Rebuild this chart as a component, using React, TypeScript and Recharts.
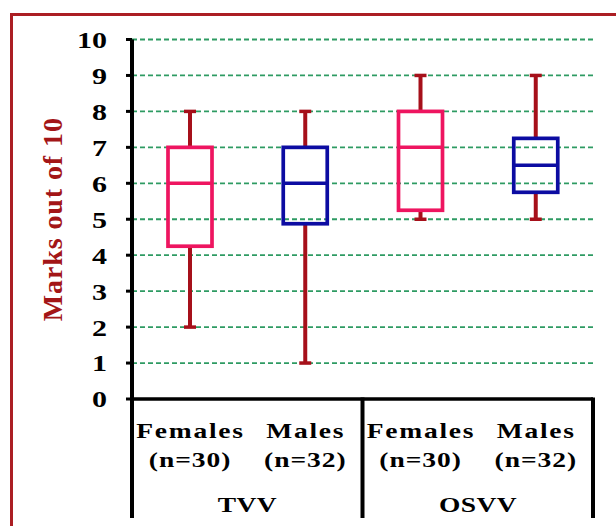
import React from 'react';
import { ComposedChart, Bar, XAxis, YAxis, CartesianGrid } from 'recharts';

// ---- data ----
const sexes = ['Females', 'Males', 'Females', 'Males'];
const counts = ['(n=30)', '(n=32)', '(n=30)', '(n=32)'];
const groups = ['TVV', 'OSVV'];
const mins = [2, 1, 5, 5];
const q1s = [4.25, 4.875, 5.25, 5.75];
const medians = [6, 6, 7, 6.5];
const q3s = [7, 7, 8, 7.25];
const maxs = [8, 8, 9, 9];
const yTicks = [0, 1, 2, 3, 4, 5, 6, 7, 8, 9, 10];
const yLabel = 'Marks out of 10';

// ---- styles ----
const SERIF = '"Liberation Serif", "Times New Roman", serif';
const BORDER = '#ab1e23';
const WHISKER = '#a6101a';
const BOX_COLORS: Record<string, string> = { Females: '#ee1560', Males: '#0c0ca2' };
const GRID = '#2e9b63';

const data = sexes.map((s, i) => ({
  key: `${s}-${i}`,
  sex: s,
  count: counts[i],
  group: groups[Math.floor(i / 2)],
  min: mins[i],
  q1: q1s[i],
  median: medians[i],
  q3: q3s[i],
  max: maxs[i],
  range: [mins[i], maxs[i]],
}));

const BoxShape = (props: any) => {
  const { x, y, width, height, payload } = props;
  if (payload == null || height == null) return null;
  const { min, q1, median, q3, max, sex } = payload;
  const unit = height / (max - min);
  const yOf = (v: number) => y + (max - v) * unit;
  const cx = x + width / 2;
  const capHalf = 6;
  const color = BOX_COLORS[sex];
  return (
    <g>
      <line x1={cx} x2={cx} y1={yOf(max)} y2={yOf(q3)} stroke={WHISKER} strokeWidth={4} />
      <line x1={cx - capHalf} x2={cx + capHalf} y1={yOf(max)} y2={yOf(max)} stroke={WHISKER} strokeWidth={3.5} />
      <line x1={cx} x2={cx} y1={yOf(q1)} y2={yOf(min)} stroke={WHISKER} strokeWidth={4} />
      <line x1={cx - capHalf} x2={cx + capHalf} y1={yOf(min)} y2={yOf(min)} stroke={WHISKER} strokeWidth={3.5} />
      <rect x={x} y={yOf(q3)} width={width} height={yOf(q1) - yOf(q3)} fill="none" stroke={color} strokeWidth={3.7} />
      <line x1={x} x2={x + width} y1={yOf(median)} y2={yOf(median)} stroke={color} strokeWidth={3.5} />
    </g>
  );
};

const YTick = (props: any) => {
  const { x, y, payload } = props;
  return (
    <g transform={`translate(${x},${y}) scale(1.25,1)`}>
      <text
        x={0}
        y={0}
        dy="0.35em"
        textAnchor="end"
        fontFamily={SERIF}
        fontWeight="bold"
        fontSize={24}
        fill="#000"
      >
        {payload.value}
      </text>
    </g>
  );
};

const XTick = (props: any) => {
  const { x, y, payload, index, width } = props;
  const d = data[index];
  if (!d) return null;
  const half = payload && payload.offset > 0 ? payload.offset : (width || 461) / data.length / 2;
  const lineBottom = y + 119;
  const txt = (content: string, cx: number, dy: number, spacing: number) => (
    <g transform={`translate(${cx},${y + dy}) scale(1.25,1)`}>
      <text
        x={spacing / 2}
        y={0}
        textAnchor="middle"
        fontFamily={SERIF}
        fontWeight="bold"
        fontSize={22}
        letterSpacing={spacing}
        fill="#000"
      >
        {content}
      </text>
    </g>
  );
  return (
    <g>
      {index === 0 && (
        <line x1={x - half} x2={x - half} y1={y} y2={lineBottom} stroke="#000" strokeWidth={4} />
      )}
      {index % 2 === 1 && (
        <line x1={x + half} x2={x + half} y1={y - 1.5} y2={lineBottom} stroke="#000" strokeWidth={4} />
      )}
      {txt(d.sex, x, 39, 1.4)}
      {txt(d.count, x, 67.5, 0.8)}
      {index % 2 === 0 && txt(d.group, x + half, 112.5, 0.3)}
    </g>
  );
};

const YLabel = (props: any) => {
  const { viewBox } = props;
  const vx = viewBox ? viewBox.x : 0;
  const vy = viewBox ? viewBox.y + viewBox.height / 2 : 220;
  const lx = vx + 62;
  return (
    <text
      x={lx}
      y={vy}
      transform={`rotate(-90, ${lx}, ${vy})`}
      textAnchor="middle"
      fontFamily={SERIF}
      fontWeight="bold"
      fontSize={28}
      letterSpacing={0.9}
      fill="#a31517"
    >
      {yLabel}
    </text>
  );
};

export default function App() {
  return (
    <div
      style={{
        position: 'absolute',
        left: 0,
        top: 0,
        width: 616,
        height: 526,
        overflow: 'hidden',
        background: '#fff',
      }}
    >
      <div
        style={{
          position: 'absolute',
          left: 10,
          top: 12.5,
          width: 700,
          height: 700,
          borderTop: `3.5px solid ${BORDER}`,
          borderLeft: `3.5px solid ${BORDER}`,
          boxSizing: 'border-box',
        }}
      />
      <div style={{ position: 'absolute', left: 0, top: 0 }}>
        <ComposedChart
          width={616}
          height={526}
          data={data}
          margin={{ top: 39.5, right: 23, bottom: 8, left: 0 }}
          barCategoryGap={0}
        >
          <CartesianGrid
            vertical={false}
            stroke={GRID}
            strokeDasharray="5 3"
            strokeWidth={1.8}
          />
          <XAxis
            dataKey="key"
            type="category"
            height={119}
            tickSize={0}
            tickMargin={0}
            tickLine={false}
            axisLine={{ stroke: '#000', strokeWidth: 3.5 }}
            tick={<XTick />}
            interval={0}
          />
          <YAxis
            width={132}
            type="number"
            domain={[0, 10]}
            ticks={yTicks}
            interval={0}
            tickSize={6}
            tickMargin={19}
            tickLine={{ stroke: '#000', strokeWidth: 3 }}
            axisLine={{ stroke: '#000', strokeWidth: 4 }}
            tick={<YTick />}
            label={<YLabel />}
          />
          <Bar
            dataKey="range"
            barSize={44}
            shape={<BoxShape />}
            isAnimationActive={false}
          />
        </ComposedChart>
      </div>
    </div>
  );
}
